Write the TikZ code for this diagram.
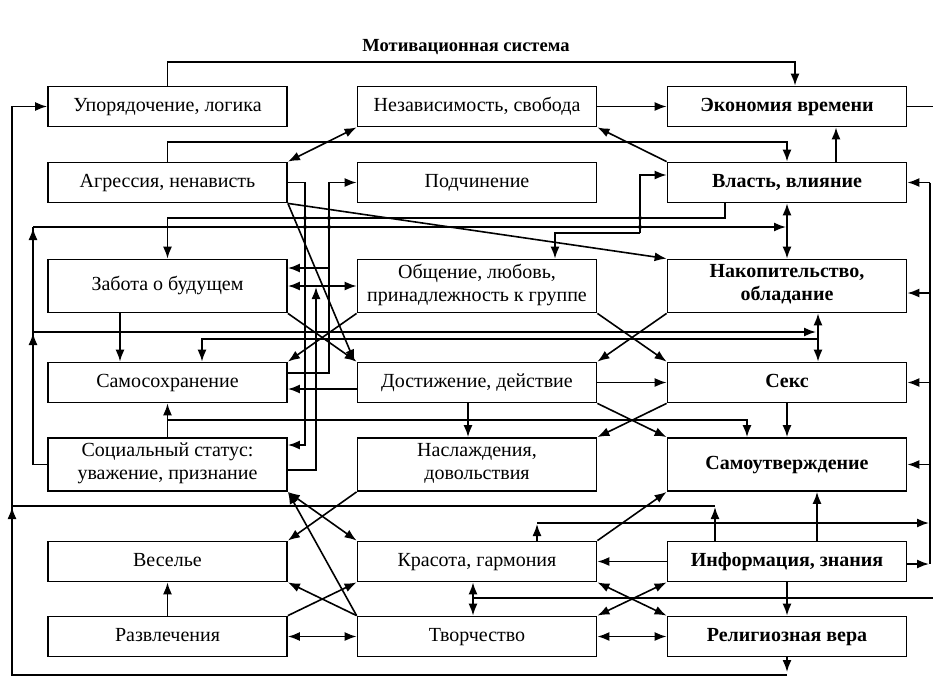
\documentclass[tikz,border=0pt]{standalone}
\usepackage{fontspec}
\setmainfont{Liberation Serif}
\usetikzlibrary{arrows.meta}
\begin{document}
\begin{tikzpicture}[x=1pt,y=-1pt,
  box/.style={draw, line width=1.8pt, minimum width=239pt, inner sep=0pt, align=center,
              font=\fontsize{20}{23}\selectfont, execute at begin node=\strut},
  hb/.style={font=\fontsize{20}{23}\selectfont\bfseries},
  low/.style={minimum height=40pt},
  tall/.style={minimum height=53pt},
  ln/.style={line width=1.6pt},
  arr/.style={ln, -{Latex[length=12pt,width=9pt]}},
  darr/.style={ln, {Latex[length=12pt,width=9pt]}-{Latex[length=12pt,width=9pt]}},
  jn/.style={circle, fill, inner sep=0pt, minimum size=4pt}
]
\useasboundingbox (0,0) rectangle (933,677);

\node[font=\fontsize{18.5}{22}\selectfont\bfseries] (title) at (466,47) {Мотивационная система};

% motive boxes: three columns, seven rows
\node[box,low] (ord)  at (167.5,106.5) {Упорядочение, логика};
\node[box,low] (ind)  at (477,106.5)   {Независимость, свобода};
\node[box,low,hb] (eco)  at (787,106.5)   {Экономия времени};
\node[box,low] (agr)  at (167.5,182.5) {Агрессия, ненависть};
\node[box,low] (sub)  at (477,182.5)   {Подчинение};
\node[box,low,hb] (pow)  at (787,182.5)   {Власть, влияние};
\node[box,tall] (fut) at (167.5,286)   {Забота о будущем};
\node[box,tall] (com) at (477,286)     {Общение, любовь,\\\strut принадлежность к группе};
\node[box,tall,hb] (acc) at (787,286)     {Накопительство,\\\strut обладание};
\node[box,low] (self) at (167.5,382.5) {Самосохранение};
\node[box,low] (ach)  at (477,382.5)   {Достижение, действие};
\node[box,low,hb] (sex)  at (787,382.5)   {Секс};
\node[box,tall] (stat) at (167.5,464.5) {Социальный статус:\\\strut уважение, признание};
\node[box,tall] (plea) at (477,464.5)   {Наслаждения,\\\strut довольствия};
\node[box,tall,hb] (asrt) at (787,464.5)   {Самоутверждение};
\node[box,low] (fun)  at (167.5,561.5) {Веселье};
\node[box,low] (beau) at (477,561.5)   {Красота, гармония};
\node[box,low,hb] (info) at (787,561.5)   {Информация, знания};
\node[box,low] (ent)  at (167.5,636.5) {Развлечения};
\node[box,low] (crea) at (477,636.5)   {Творчество};
\node[box,low,hb] (rel)  at (787,636.5)   {Религиозная вера};

% junction dots
\node[jn] (j1) at (305,218) {};
\node[jn] (j2) at (305,227) {};
\node[jn] (j3) at (329,218) {};
\node[jn] (j4) at (329,227) {};
\node[jn] (j5) at (640,218) {};
\node[jn] (j6) at (640,227) {};

% top row
\draw[arr] (ord.north) -- (167.5,62) -- (795,62) -- ([xshift=8pt]eco.north);
\draw[arr] (ind.east) -- (eco.west);
\draw[ln] (eco.east) -- (933,106.5);
\draw[darr] (agr.north east) -- (ind.south west);
\draw[arr] (pow.north west) -- (ind.south east);
\draw[arr] (agr.north) -- (167.5,142) -- (787,142) -- (pow.north);
\draw[arr] ([xshift=49pt]pow.north) -- ([xshift=49pt]eco.south);

% left-middle verticals
\draw[arr] (agr.east) -- (305,182.5) -- (305,445) -- ([yshift=19.5pt]stat.east);
\draw[arr] ([yshift=9.5pt]self.east) -- (329,373) -- (329,182.5) -- (sub.west);
\draw[arr] (329,268) -- ([yshift=18pt]fut.east);
\draw[arr] ([yshift=-5.5pt]stat.east) -- (316,470) -- (316,287);
\draw[darr] (fut.east) -- (com.west);
\draw[arr] ([xshift=-47.5pt]fut.south) -- ([xshift=-47.5pt]self.north);
\draw[arr] (fut.south east) -- (ach.north west);
\draw[arr] (com.south west) -- (self.north east);
\draw[arr] (agr.south east) -- ([xshift=-2pt]ach.north west);
\draw[arr] (agr.south east) -- (acc.north west);

% horizontal buses under the second row
\draw[arr] ([xshift=-62pt]pow.south) -- (725,218) -- (167.5,218) -- (fut.north);
\draw[ln] (stat.west) -- (33,464.5) -- (33,227);
\draw[arr] (33,227) -- (786,227);
\draw[arr] (33,332) -- (816,332);
\draw[arr] (33,348) -- (33,333);
\draw[arr] (33,243) -- (33,228);
\draw[darr] (pow.south) -- (acc.north);
\draw[darr] ([xshift=31pt]acc.south) -- ([xshift=31pt]sex.north);
\draw[arr] (818,339) -- (202,339) -- ([xshift=34.5pt]self.north);
\draw[arr] (j5) -- (640,175) -- ([yshift=7.5pt]pow.west);
\draw[ln] (640,218) -- (640,233);
\draw[arr] (640,233) -- (555,233) -- ([xshift=78pt]com.north);

% middle rows
\draw[arr] (com.south east) -- (sex.north west);
\draw[arr] (acc.south west) -- (ach.north east);
\draw[arr] (ach.east) -- (sex.west);
\draw[arr] ([xshift=-9pt]ach.south) -- ([xshift=-9pt]plea.north);
\draw[arr] ([yshift=-6.5pt]ach.west) -- ([yshift=-6.5pt]self.east);
\draw[arr] (stat.north) -- (self.south);
\draw[arr] (167.5,420) -- (747,420) -- ([xshift=-40pt]asrt.north);
\draw[arr] (ach.south east) -- (asrt.north west);
\draw[arr] (sex.south west) -- (plea.north east);
\draw[arr] (sex.south) -- (asrt.north);

% right bus
\draw[ln] (930,182.5) -- (930,564);
\draw[arr] (930,182.5) -- (pow.east);
\draw[arr] (930,293) -- ([yshift=-7pt]acc.east);
\draw[arr] (930,382.5) -- (sex.east);
\draw[arr] (930,464.5) -- (asrt.east);
\draw[arr] ([yshift=-2.5pt]info.east) -- (929,564);
\draw[arr] ([xshift=60pt]beau.north) -- (537,524);
\draw[arr] (537,523) -- (929,523);

% lower rows
\draw[arr] ([xshift=-72pt]info.north) -- (715,507);
\draw[ln] (715,506) -- (12,506);
\draw[arr] ([xshift=30pt]info.north) -- ([xshift=30pt]asrt.south);
\draw[arr] (beau.north east) -- (asrt.south west);
\draw[arr] (info.west) -- (beau.east);
\draw[darr] (beau.south east) -- (rel.north west);
\draw[darr] (crea.north east) -- (info.south west);
\draw[arr] (info.south) -- (rel.north);
\draw[darr] (crea.east) -- (rel.west);
\draw[darr] ([xshift=-4pt]beau.south) -- ([xshift=-4pt]crea.north);
\draw[ln] (473,598) -- (933,598);
\draw[arr] (rel.south) -- (787,672);
\draw[arr] (787,675) -- (12,675) -- (12,106.5) -- (ord.west);
\draw[arr] (12,527) -- (12,507);
\draw[darr] (stat.south east) -- (beau.north west);
\draw[arr] (crea.north west) -- (stat.south east);
\draw[arr] (plea.south west) -- (fun.north east);
\draw[arr] (ent.north east) -- (beau.south west);
\draw[arr] (crea.north west) -- (fun.south east);
\draw[darr] (ent.east) -- (crea.west);
\draw[arr] (ent.north) -- (fun.south);
\end{tikzpicture}
\end{document}
